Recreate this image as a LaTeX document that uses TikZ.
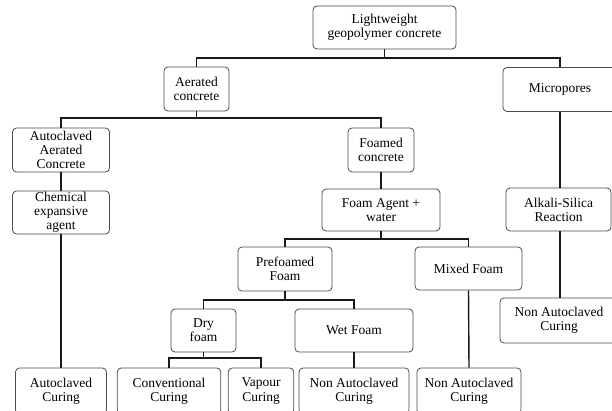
\documentclass[tikz,border=0pt]{standalone}
\usepackage{fontspec}
\setmainfont{Liberation Serif}
\begin{document}
\begin{tikzpicture}[x=1pt,y=-1pt,
  box/.style={draw=black!70, line width=0.8pt, rounded corners=4pt, fill=white,
    align=center, inner sep=1pt, font=\fontsize{13.5}{14.2}\selectfont},
  conn/.style={line width=1.4pt, black!90}]
\useasboundingbox (0,0) rectangle (612,411);
\clip (0,0) rectangle (612,411);
% nodes
\node[box, minimum width=143pt, minimum height=43pt] (lw) at (384.5,27.5) {Lightweight\\geopolymer concrete};
\node[box, minimum width=65pt, minimum height=44pt] (aer) at (196.5,89) {Aerated\\concrete};
\node[box, minimum width=114pt, minimum height=44pt] (mic) at (560,89.5) {Micropores};
\node[box, minimum width=97pt, minimum height=44pt] (aac) at (61,150) {Autoclaved\\Aerated\\Concrete};
\node[box, minimum width=97pt, minimum height=43pt] (chem) at (61,212.5) {Chemical\\expansive\\agent};
\node[box, minimum width=66pt, minimum height=44pt] (foamed) at (381,150) {Foamed\\concrete};
\node[box, minimum width=118pt, minimum height=42pt] (agent) at (381,210) {Foam Agent +\\water};
\node[box, minimum width=105pt, minimum height=43pt] (alk) at (558.5,209.5) {Alkali-Silica\\Reaction};
\node[box, minimum width=94pt, minimum height=44pt] (pre) at (285,269) {Prefoamed\\Foam};
\node[box, minimum width=107pt, minimum height=43pt] (mix) at (468.5,268.5) {Mixed Foam};
\node[box, minimum width=65pt, minimum height=43pt] (dry) at (203.5,330.5) {Dry\\foam};
\node[box, minimum width=118pt, minimum height=43pt] (wet) at (354,330.5) {Wet Foam};
\node[box, minimum width=118pt, minimum height=45pt] (nar) at (559,320.5) {Non Autoclaved\\Curing};
\node[box, minimum width=91pt, minimum height=46pt] (acc) at (61,391) {Autoclaved\\Curing};
\node[box, minimum width=103.5pt, minimum height=46pt] (conv) at (169,391) {Conventional\\Curing};
\node[box, minimum width=65.5pt, minimum height=46pt] (vap) at (261,391) {Vapour\\Curing};
\node[box, minimum width=110pt, minimum height=46pt] (naw) at (354,391) {Non Autoclaved\\Curing};
\node[box, minimum width=104pt, minimum height=46pt] (nam) at (469,391) {Non Autoclaved\\Curing};
% bus levels
\coordinate (b1) at (0,58);
\coordinate (b2) at (0,118);
\coordinate (b3) at (0,239);
\coordinate (b4) at (0,300);
\coordinate (b5) at (0,358);
% connectors
\draw[conn] (lw.south) -- (lw.south|-b1);
\draw[conn] (aer.north) -- (aer.north|-b1) -| (mic.north);
\draw[conn] (aer.south) -- (aer.south|-b2);
\draw[conn] (aac.north) -- (aac.north|-b2) -| (foamed.north);
\draw[conn] (aac.south) -- (chem.north);
\draw[conn] (chem.south) -- (acc.north);
\draw[conn] (foamed.south) -- (agent.north);
\draw[conn] (agent.south) -- (agent.south|-b3);
\draw[conn] (pre.north) -- (pre.north|-b3) -| (mix.north);
\draw[conn] (pre.south) -- (pre.south|-b4);
\draw[conn] (dry.north) -- (dry.north|-b4) -| (wet.north);
\draw[conn] (dry.south) -- (dry.south|-b5);
\draw[conn] (conv.north) -- (conv.north|-b5) -| (vap.north);
\draw[conn] (wet.south) -- (naw.north);
\draw[conn] (mix.south) -- (nam.north);
\draw[conn] (mic.south) -- (mic.south|-alk.north);
\draw[conn] (mic.south|-alk.south) -- (nar.north-|mic.south);
\end{tikzpicture}
\end{document}
